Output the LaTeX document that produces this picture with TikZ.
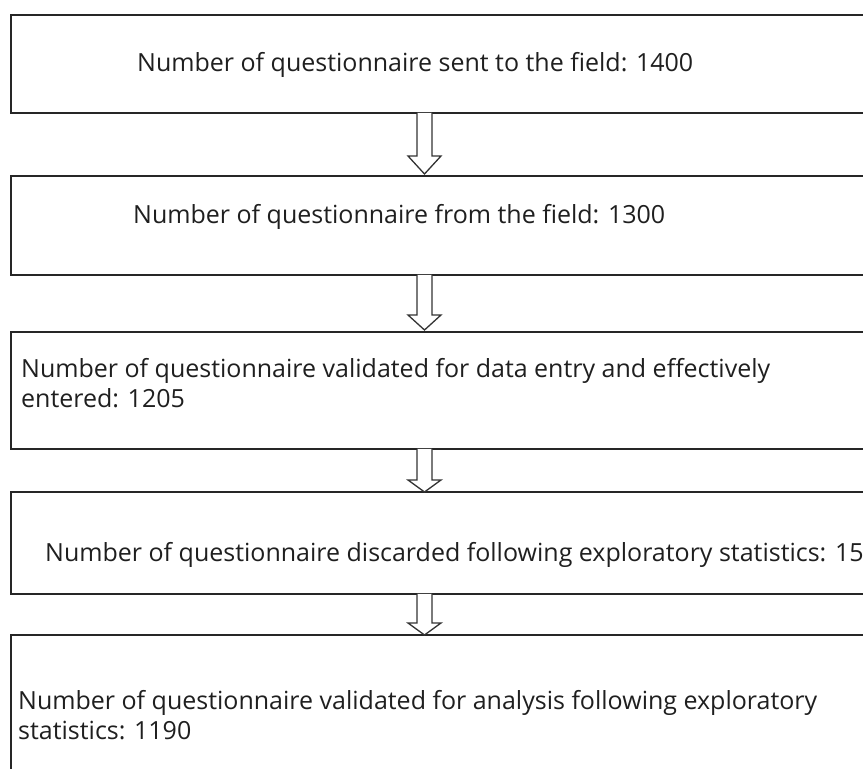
\documentclass[tikz,border=0pt]{standalone}
\usepackage{fontspec}
\setmainfont{Open Sans}
\usetikzlibrary{calc}
\newlength\reftw
\newcommand\blockarr[4]{%
  \draw[barrow] let \p1=(#1.south), \p2=(#2.north) in
    (417,\y1) -- (417,\y2+#4+#3) -- (408,\y2+#4+#3) -- (424.5,\y2+#4)
    -- (441,\y2+#4+#3) -- (432,\y2+#4+#3) -- (432,\y1);}
\begin{document}
\settowidth{\reftw}{\fontsize{20pt}{24pt}\selectfont Number of questionnaire sent to the field: 1400}%
\pgfmathsetmacro\fs{20*556/\reftw}%
\begin{tikzpicture}[x=1pt,y=1pt,
  box/.style={draw=black!85, line width=1.6pt, minimum width=889pt, outer sep=0pt, inner sep=0pt},
  barrow/.style={draw=black!80, line width=1.3pt, fill=white, line join=miter},
  txt/.style={inner sep=0pt, anchor=base west, text=black!88, align=left, font=\fontsize{\fs pt}{30pt}\selectfont}]
\useasboundingbox (0,0) rectangle (863,769);
\clip (0,0) rectangle (863,769);
\node[box, minimum height=98pt]  (b1) at (455.5,705) {};
\node[box, minimum height=99pt]  (b2) at (455.5,543.5) {};
\node[box, minimum height=117pt] (b3) at (455.5,378.5) {};
\node[box, minimum height=102pt] (b4) at (455.5,226) {};
\node[box, minimum height=164pt] (b5) at (455.5,52) {};
\node[txt] (t1) at (137,697) {Number of questionnaire sent to the field: 1400};
\node[txt] (t2) at (133,545) {Number of questionnaire from the field: 1300};
\node[txt] (t3) at (21,361) {Number of questionnaire validated for data entry and effectively\\entered: 1205};
\node[txt] (t4) at (45,207) {Number of questionnaire discarded following exploratory statistics: 15};
\node[txt] (t5) at (18,29) {Number of questionnaire validated for analysis following exploratory\\statistics: 1190};
\blockarr{b1}{b2}{18}{2}
\blockarr{b2}{b3}{15}{2}
\blockarr{b3}{b4}{12}{0}
\blockarr{b4}{b5}{12}{0}
\end{tikzpicture}
\end{document}
